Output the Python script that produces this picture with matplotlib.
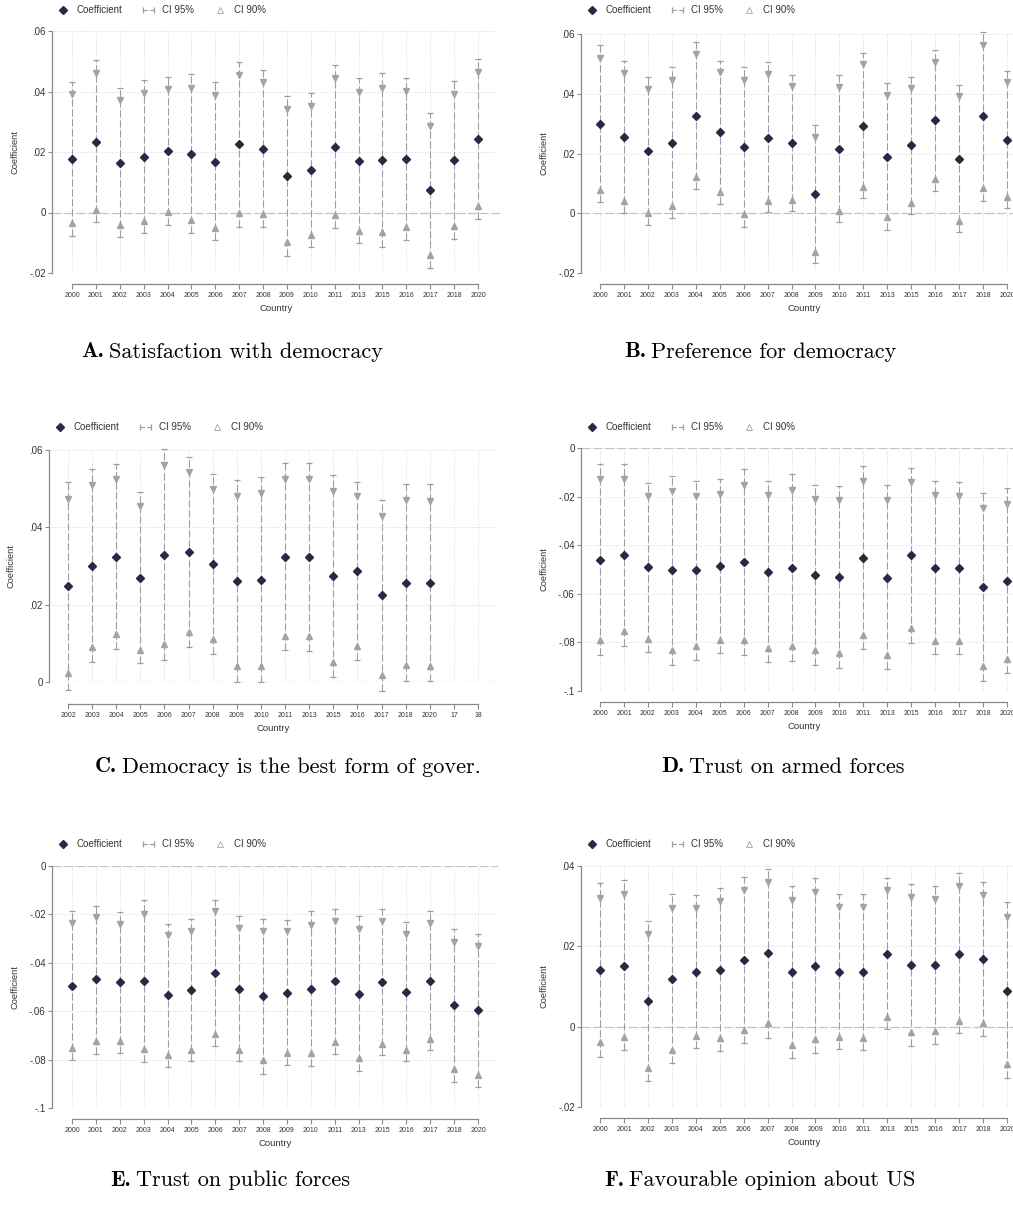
import numpy as np
import matplotlib.pyplot as plt
from matplotlib.lines import Line2D
from matplotlib.legend_handler import HandlerLine2D
from matplotlib.ticker import FixedLocator, FuncFormatter

plt.rcParams['font.family'] = ['Liberation Sans', 'DejaVu Sans']
plt.rcParams['mathtext.fontset'] = 'cm'

years = ['2000', '2001', '2002', '2003', '2004', '2005', '2006', '2007', '2008',
         '2009', '2010', '2011', '2013', '2015', '2016', '2017', '2018', '2020']
years_c = ['2002', '2003', '2004', '2005', '2006', '2007', '2008', '2009', '2010',
           '2011', '2013', '2015', '2016', '2017', '2018', '2020', '17', '18']

# A. Satisfaction with democracy
a_coef = [0.0178, 0.0234, 0.0164, 0.0182, 0.0202, 0.0194, 0.0168, 0.0225, 0.0211,
          0.0120, 0.0139, 0.0218, 0.0169, 0.0172, 0.0177, 0.0073, 0.0172, 0.0242]
a_hi95 = [0.0433, 0.0505, 0.0412, 0.0438, 0.0448, 0.0459, 0.0431, 0.0499, 0.0471,
          0.0385, 0.0396, 0.0488, 0.0443, 0.0460, 0.0444, 0.0329, 0.0434, 0.0506]
a_hi90 = [0.0392, 0.0462, 0.0371, 0.0396, 0.0409, 0.0413, 0.0388, 0.0455, 0.0431,
          0.0343, 0.0351, 0.0443, 0.0400, 0.0411, 0.0402, 0.0285, 0.0393, 0.0466]
a_lo90 = [-0.0035, 0.0009, -0.0041, -0.0029, 0.0001, -0.0024, -0.0051, -0.0002, -0.0004,
          -0.0099, -0.0074, -0.0008, -0.0060, -0.0064, -0.0048, -0.0140, -0.0046, 0.0020]
a_lo95 = [-0.0077, -0.0033, -0.0081, -0.0069, -0.0040, -0.0067, -0.0092, -0.0047, -0.0047,
          -0.0143, -0.0114, -0.0052, -0.0102, -0.0113, -0.0091, -0.0182, -0.0088, -0.0022]

# B. Preference for democracy
b_coef = [0.0298, 0.0254, 0.0207, 0.0235, 0.0326, 0.0271, 0.0222, 0.0253, 0.0235,
          0.0064, 0.0216, 0.0293, 0.0188, 0.0227, 0.0311, 0.0183, 0.0325, 0.0246]
b_hi95 = [0.0562, 0.0510, 0.0457, 0.0488, 0.0572, 0.0511, 0.0488, 0.0507, 0.0463,
          0.0294, 0.0463, 0.0538, 0.0435, 0.0457, 0.0546, 0.0430, 0.0608, 0.0475]
b_hi90 = [0.0521, 0.0468, 0.0416, 0.0446, 0.0533, 0.0473, 0.0446, 0.0466, 0.0426,
          0.0256, 0.0422, 0.0500, 0.0395, 0.0420, 0.0507, 0.0393, 0.0563, 0.0439]
b_lo90 = [0.0078, 0.0041, 0.0000, 0.0025, 0.0120, 0.0071, -0.0002, 0.0041, 0.0045,
          -0.0129, 0.0009, 0.0089, -0.0014, 0.0033, 0.0114, -0.0025, 0.0085, 0.0055]
b_lo95 = [0.0036, 0.0000, -0.0040, -0.0017, 0.0080, 0.0031, -0.0047, 0.0003, 0.0009,
          -0.0167, -0.0030, 0.0050, -0.0056, -0.0002, 0.0076, -0.0064, 0.0041, 0.0017]

# C. Democracy is the best form of government
c_coef = [0.0247, 0.0300, 0.0324, 0.0269, 0.0329, 0.0336, 0.0306, 0.0261, 0.0264,
          0.0324, 0.0323, 0.0273, 0.0287, 0.0224, 0.0257, 0.0257]
c_hi95 = [0.0516, 0.0550, 0.0563, 0.0491, 0.0603, 0.0582, 0.0538, 0.0523, 0.0531,
          0.0566, 0.0566, 0.0535, 0.0518, 0.0470, 0.0512, 0.0511]
c_hi90 = [0.0473, 0.0509, 0.0524, 0.0454, 0.0560, 0.0542, 0.0500, 0.0481, 0.0488,
          0.0526, 0.0526, 0.0493, 0.0481, 0.0430, 0.0471, 0.0469]
c_lo90 = [0.0022, 0.0090, 0.0123, 0.0083, 0.0098, 0.0130, 0.0110, 0.0041, 0.0041,
          0.0120, 0.0120, 0.0053, 0.0092, 0.0017, 0.0044, 0.0042]
c_lo95 = [-0.0021, 0.0051, 0.0086, 0.0049, 0.0057, 0.0090, 0.0073, -0.0001, -0.0001,
          0.0083, 0.0081, 0.0012, 0.0058, -0.0022, 0.0003, 0.0003]

# D. Trust on armed forces
d_coef = [-0.0460, -0.0441, -0.0490, -0.0504, -0.0504, -0.0486, -0.0470, -0.0510, -0.0492,
          -0.0521, -0.0529, -0.0451, -0.0533, -0.0441, -0.0493, -0.0495, -0.0573, -0.0547]
d_hi95 = [-0.0066, -0.0066, -0.0143, -0.0114, -0.0135, -0.0128, -0.0087, -0.0135, -0.0107,
          -0.0151, -0.0155, -0.0076, -0.0154, -0.0081, -0.0136, -0.0140, -0.0185, -0.0165]
d_hi90 = [-0.0129, -0.0126, -0.0199, -0.0176, -0.0196, -0.0188, -0.0151, -0.0195, -0.0172,
          -0.0210, -0.0216, -0.0136, -0.0213, -0.0140, -0.0194, -0.0198, -0.0247, -0.0229]
d_lo90 = [-0.0790, -0.0755, -0.0784, -0.0830, -0.0813, -0.0790, -0.0790, -0.0823, -0.0815,
          -0.0831, -0.0845, -0.0768, -0.0852, -0.0742, -0.0793, -0.0793, -0.0898, -0.0867]
d_lo95 = [-0.0852, -0.0815, -0.0839, -0.0894, -0.0872, -0.0845, -0.0852, -0.0882, -0.0875,
          -0.0893, -0.0904, -0.0826, -0.0911, -0.0801, -0.0849, -0.0849, -0.0959, -0.0927]

# E. Trust on public forces
e_coef = [-0.0495, -0.0469, -0.0481, -0.0477, -0.0532, -0.0513, -0.0443, -0.0508, -0.0537,
          -0.0523, -0.0508, -0.0476, -0.0527, -0.0481, -0.0521, -0.0474, -0.0575, -0.0597]
e_hi95 = [-0.0188, -0.0164, -0.0192, -0.0142, -0.0239, -0.0218, -0.0141, -0.0208, -0.0218,
          -0.0222, -0.0188, -0.0177, -0.0208, -0.0178, -0.0233, -0.0188, -0.0259, -0.0280]
e_hi90 = [-0.0237, -0.0211, -0.0239, -0.0199, -0.0287, -0.0268, -0.0188, -0.0255, -0.0270,
          -0.0270, -0.0243, -0.0226, -0.0259, -0.0226, -0.0280, -0.0236, -0.0312, -0.0331]
e_lo90 = [-0.0754, -0.0724, -0.0724, -0.0757, -0.0781, -0.0759, -0.0694, -0.0760, -0.0803,
          -0.0774, -0.0774, -0.0727, -0.0793, -0.0737, -0.0761, -0.0714, -0.0839, -0.0862]
e_lo95 = [-0.0803, -0.0775, -0.0771, -0.0811, -0.0830, -0.0806, -0.0742, -0.0806, -0.0858,
          -0.0823, -0.0825, -0.0775, -0.0846, -0.0783, -0.0806, -0.0760, -0.0891, -0.0914]

# F. Favourable opinion about US
f_coef = [0.0141, 0.0152, 0.0064, 0.0118, 0.0137, 0.0142, 0.0166, 0.0183, 0.0135,
          0.0152, 0.0137, 0.0136, 0.0181, 0.0154, 0.0153, 0.0182, 0.0168, 0.0090]
f_hi95 = [0.0357, 0.0364, 0.0263, 0.0330, 0.0327, 0.0345, 0.0372, 0.0392, 0.0349,
          0.0371, 0.0330, 0.0330, 0.0369, 0.0355, 0.0349, 0.0383, 0.0359, 0.0310]
f_hi90 = [0.0321, 0.0330, 0.0230, 0.0296, 0.0295, 0.0312, 0.0340, 0.0359, 0.0316,
          0.0335, 0.0298, 0.0297, 0.0340, 0.0323, 0.0319, 0.0350, 0.0329, 0.0273]
f_lo90 = [-0.0039, -0.0025, -0.0102, -0.0057, -0.0022, -0.0028, -0.0008, 0.0008, -0.0045,
          -0.0031, -0.0025, -0.0027, 0.0023, -0.0013, -0.0012, 0.0013, 0.0008, -0.0094]
f_lo95 = [-0.0075, -0.0059, -0.0135, -0.0091, -0.0053, -0.0061, -0.0041, -0.0027, -0.0079,
          -0.0065, -0.0056, -0.0058, -0.0007, -0.0047, -0.0043, -0.0016, -0.0024, -0.0128]

ticks_pos = [0.06, 0.04, 0.02, 0, -0.02]
ticks_neg = [0, -0.02, -0.04, -0.06, -0.08, -0.1]
ticks_c = [0.06, 0.04, 0.02, 0]
ticks_f = [0.04, 0.02, 0, -0.02]

COEF_C = '#2a2845'
CI_C = '#a597a5'
TRI_C = '#aa9eaa'
GRID_C = '#cccccc'
AXIS_C = '#8a8a8a'

W, H = 1013, 1208
fig = plt.figure(figsize=(W / 100, H / 100), dpi=100)


def stata_fmt(v, pos):
    if abs(v) < 1e-12:
        return '0'
    return ('%g' % v).replace('0.', '.')


def panel(box, cats, coef, hi95, hi90, lo90, lo95, yticks, x0, x1, leg_y, letter, caption, cap_xy, off=8):
    left, right, top, bottom = box
    ax = fig.add_axes([left / W, 1 - bottom / H, (right - left) / W, (bottom - top) / H])
    n = len(cats)
    s = (x1 - x0) / (n - 1)
    ax.set_xlim(-(x0 - left) / s, (n - 1) + (right - x1) / s)
    ax.set_ylim(min(yticks), max(yticks))

    x = np.arange(len(coef))
    ax.axhline(0, color='#c4c4c4', lw=0.9, ls=(0, (7, 2.5)), zorder=1)
    ax.vlines(x, lo95, hi95, colors=CI_C, lw=0.8, linestyles=(0, (6.5, 2.5)), zorder=2, clip_on=False)
    ax.plot(x, hi95, ls='none', marker='_', ms=4.5, mew=0.9, color=CI_C, zorder=2, clip_on=False)
    ax.plot(x, lo95, ls='none', marker='_', ms=4.5, mew=0.9, color=CI_C, zorder=2, clip_on=False)
    ax.plot(x, hi90, ls='none', marker='v', ms=4, color=TRI_C, zorder=3, clip_on=False)
    ax.plot(x, lo90, ls='none', marker='^', ms=4, color=TRI_C, zorder=3, clip_on=False)
    ax.plot(x, coef, ls='none', marker='D', ms=3.8, color=COEF_C, zorder=4, clip_on=False)

    ax.xaxis.set_major_locator(FixedLocator(range(n)))
    ax.set_xticklabels(cats)
    ax.yaxis.set_major_locator(FixedLocator(yticks))
    ax.yaxis.set_major_formatter(FuncFormatter(stata_fmt))
    ax.grid(True, color=GRID_C, lw=0.6, ls=(0, (1, 2)))
    ax.set_axisbelow(True)

    for sp in ['top', 'right']:
        ax.spines[sp].set_visible(False)
    ax.spines['left'].set_bounds(min(yticks), max(yticks))
    ax.spines['bottom'].set_bounds(0, n - 1)
    ax.spines['bottom'].set_position(('outward', off))
    for sp in ['left', 'bottom']:
        ax.spines[sp].set_color(AXIS_C)
        ax.spines[sp].set_linewidth(0.9)
    ax.tick_params(axis='y', length=3, width=0.8, color=AXIS_C, labelsize=7, pad=1.5, labelcolor='#333333')
    ax.tick_params(axis='x', length=3.5, width=0.8, color=AXIS_C, labelsize=5, pad=2, labelcolor='#333333')

    ax.set_ylabel('Coefficient', fontsize=6.7, color='#333333')
    ax.yaxis.set_label_coords(-33 / (right - left), 0.5)
    ax.set_xlabel('Country', fontsize=6.8, color='#333333', labelpad=4)

    h_coef = Line2D([], [], ls='none', marker='D', ms=3.6, color=COEF_C)
    h_ci95 = Line2D([0, 1], [0, 0], ls=(0, (4, 2)), lw=0.8, marker='|', ms=4, mew=0.9, color=CI_C)
    h_ci90 = Line2D([], [], ls='none', marker='^', ms=4, color=TRI_C, mfc='none', mew=0.6)
    ax.legend([h_coef, h_ci95, h_ci90], ['Coefficient', 'CI 95%', 'CI 90%'],
              handler_map={h_coef: HandlerLine2D(numpoints=1), h_ci90: HandlerLine2D(numpoints=1)},
              numpoints=2, ncol=3, frameon=False, fontsize=7, loc='center left',
              bbox_to_anchor=((left + 2) / W, 1 - leg_y / H), bbox_transform=fig.transFigure,
              borderaxespad=0, borderpad=0, handlelength=1.8, handletextpad=0.5, columnspacing=1.8,
              labelcolor='#333333')

    # caption: bold letter followed by roman text, centred as one line
    t1 = fig.text(0, 0, letter, fontsize=16, family='cmb10')
    t2 = fig.text(0, 0, caption, fontsize=16, family='cmr10')
    r = fig.canvas.get_renderer()
    w1 = t1.get_window_extent(r).width
    w2 = t2.get_window_extent(r).width
    gap = 5
    x_start = cap_xy[0] - (w1 + gap + w2) / 2
    t1.set_position((x_start / W, 1 - cap_xy[1] / H))
    t2.set_position(((x_start + w1 + gap) / W, 1 - cap_xy[1] / H))
    t1.set_va('center')
    t2.set_va('center')
    return ax


panel((52, 500, 31, 273), years, a_coef, a_hi95, a_hi90, a_lo90, a_lo95, ticks_pos, 72, 478,
      10, 'A.', 'Satisfaction with democracy', (232, 352))
panel((581, 1027, 34, 273), years, b_coef, b_hi95, b_hi90, b_lo90, b_lo95, ticks_pos, 600, 1007,
      10, 'B.', 'Preference for democracy', (760, 352))
panel((49, 498, 450, 682), years_c, c_coef, c_hi95, c_hi90, c_lo90, c_lo95, ticks_c, 68, 478,
      427, 'C.', 'Democracy is the best form of gover.', (288, 767), off=16)
panel((581, 1027, 448, 691), years, d_coef, d_hi95, d_hi90, d_lo90, d_lo95, ticks_neg, 600, 1007,
      427, 'D.', 'Trust on armed forces', (783, 767))
panel((52, 498, 866, 1108), years, e_coef, e_hi95, e_hi90, e_lo90, e_lo95, ticks_neg, 72, 478,
      844, 'E.', 'Trust on public forces', (230, 1180))
panel((581, 1027, 866, 1107), years, f_coef, f_hi95, f_hi90, f_lo90, f_lo95, ticks_f, 600, 1007,
      844, 'F.', 'Favourable opinion about US', (760, 1180))

fig.savefig('out.png', dpi=100)
